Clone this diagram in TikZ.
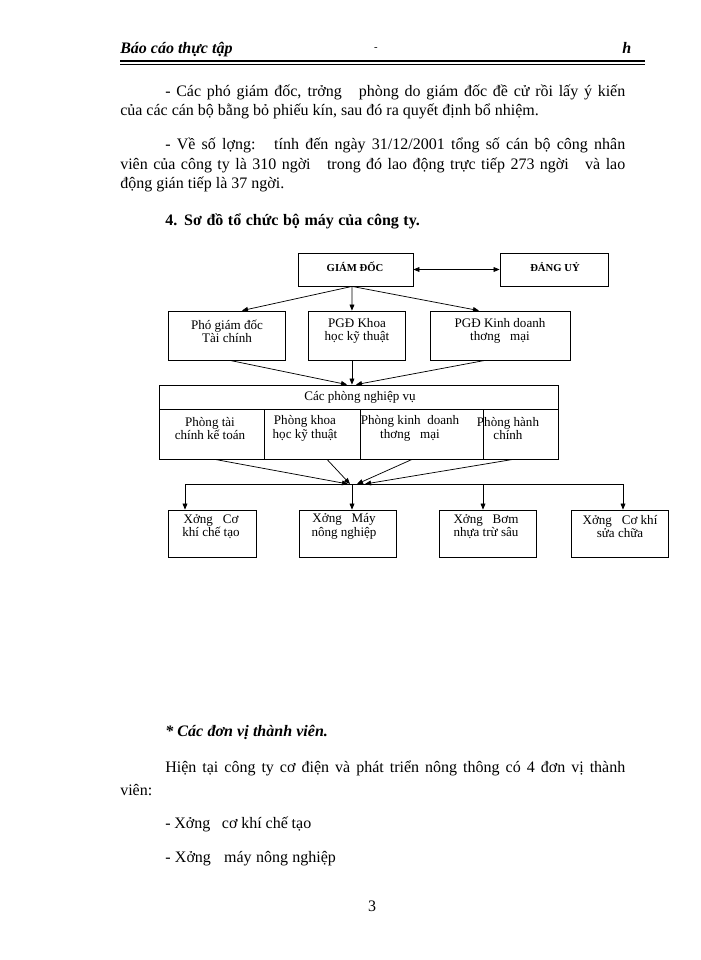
\documentclass[tikz,border=0pt]{standalone}
\usepackage{fontspec}
\setmainfont{Liberation Serif}
\usetikzlibrary{arrows.meta,positioning}

\begin{document}
\begin{tikzpicture}[
  x=0.75pt, y=-0.75pt,
  body/.style={anchor=base west, inner sep=0pt, font=\fontsize{12}{14}\selectfont},
  box/.style={draw, line width=0.6pt, inner sep=0pt},
  boxtext/.style={align=center, inner sep=0pt, font=\fontsize{9.8}{10}\selectfont},
  captext/.style={inner sep=0pt, font=\fontsize{8}{10}\selectfont\bfseries},
  arrow/.style={-{Triangle[length=4.5pt,width=3.6pt]}, line width=0.55pt},
  darrow/.style={{Triangle[length=4.5pt,width=3.6pt]}-{Triangle[length=4.5pt,width=3.6pt]}, line width=0.55pt}
]
  \fill[white] (0,0) rectangle (700,960);
  \useasboundingbox (0,0) rectangle (700,960);

  % Page header
  \node[body, font=\fontsize{12}{14}\selectfont\bfseries\itshape] (hdr) at (120,53) {Báo cáo thực tập};
  \node[inner sep=0pt, font=\fontsize{8}{10}\selectfont] (hdrdash) at (376,49) {-};
  \node[body, font=\fontsize{12}{14}\selectfont\bfseries\itshape] (hdrh) at (622,53) {h};
  \draw[line width=1.1pt] (120,61) -- (645,61);
  \draw[line width=0.4pt] (120,64) -- (645,64);

  % Text above the chart
  \node[body] (para1a) at (165,96) {\makebox[345pt][s]{- Các phó giám đốc, trởng\ \ \ phòng do giám đốc đề cử rồi lấy ý kiến}};
  \node[body] (para1b) at (120,115) {của các cán bộ bằng bỏ phiếu kín, sau đó ra quyết định bổ nhiệm.};
  \node[body] (para2a) at (165,149) {\makebox[345pt][s]{- Về số lợng:\ \ \ tính đến ngày 31/12/2001 tổng số cán bộ công nhân}};
  \node[body] (para2b) at (120,169) {\makebox[378.75pt][s]{viên của công ty là 310 ngời\ \ \ trong đó lao động trực tiếp 273 ngời\ \ \ và lao}};
  \node[body] (para2c) at (120,188) {động gián tiếp là 37 ngời.};
  \node[body, font=\fontsize{12}{14}\selectfont\bfseries] (head4) at (165,225) {\makebox[191pt][s]{4. Sơ đồ tổ chức bộ máy của công ty.}};

  % Top level
  \node[box, minimum width=86.25pt, minimum height=24.75pt] (gd) at (355.5,269.5) {};
  \node[box, minimum width=81pt, minimum height=24.75pt] (dangu) at (554,269.5) {};
  \node[captext] (gdt) at (355,267) {GIÁM ĐỐC};
  \node[captext] (dangut) at (555,267) {ĐẢNG UỶ};
  \draw[darrow] (gd.east) -- (dangu.west);

  % Deputy directors
  \node[box, minimum width=87.75pt, minimum height=36.75pt] (pgd1) at (226.5,335.5) {};
  \node[box, minimum width=72.75pt, minimum height=36.75pt] (pgd2) at (356.5,335.5) {};
  \node[box, minimum width=105pt, minimum height=36.75pt] (pgd3) at (500,335.5) {};
  \node[boxtext] (pgd1t) at (227,331) {Phó giám đốc\\Tài chính};
  \node[boxtext] (pgd2t) at (357,331) {PGĐ Khoa\\học kỹ thuật};
  \node[boxtext] (pgd3t) at (500,331) {PGĐ Kinh doanh\\thơng\ \ \ mại};
  \draw[arrow] ([xshift=-2.6pt]gd.south) -- ([xshift=11.6pt]pgd1.north);
  \draw[arrow] ([xshift=-2.6pt]gd.south) -- ([xshift=-3.4pt]pgd2.north);
  \draw[arrow] ([xshift=-2.6pt]gd.south) -- ([xshift=-15.75pt]pgd3.north);

  % Functional departments
  \node[box, minimum width=299.25pt, minimum height=18pt] (cpnv) at (358.5,397) {};
  \node[boxtext] (cpnvt) at (360,397) {Các phòng nghiệp vụ};
  \node[box, minimum width=78.75pt, minimum height=37.5pt] (pb1) at (211.5,434) {};
  \node[box, minimum width=72pt, minimum height=37.5pt] (pb2) at (312,434) {};
  \node[box, minimum width=92.25pt, minimum height=37.5pt] (pb3) at (421.5,434) {};
  \node[box, minimum width=56.25pt, minimum height=37.5pt] (pb4) at (520.5,434) {};
  \node[boxtext] (pb1t) at (210,428.5) {Phòng tài\\chính kế toán};
  \node[boxtext] (pb2t) at (305,428.5) {Phòng khoa\\học kỹ thuật};
  \node[boxtext] (pb3t) at (410,428.5) {Phòng kinh\ \ doanh\\thơng\ \ \ mại};
  \node[boxtext] (pb4t) at (508,428.5) {Phòng hành\\chính};
  \draw[arrow] ([xshift=2.6pt]pgd1.south) -- ([xshift=-8.6pt]cpnv.north);
  \draw[arrow] ([xshift=-3.4pt]pgd2.south) -- ([xshift=-4.9pt]cpnv.north);
  \draw[arrow] ([xshift=-11.25pt]pgd3.south) -- ([xshift=-1.9pt]cpnv.north);

  % Distribution line to workshops
  \coordinate (busl) at (185,484);
  \coordinate (busm) at (352,484);
  \coordinate (busr3) at (483,484);
  \coordinate (busr) at (623,484);
  \draw[line width=0.55pt] (busl) -- (busr);
  \draw[arrow] ([xshift=2.6pt]pb1.south) -- ([xshift=-3pt]busm);
  \draw[arrow] ([xshift=11.25pt]pb2.south) -- ([xshift=-1.5pt]busm);
  \draw[arrow] ([xshift=-7.1pt]pb3.south) -- ([xshift=3.75pt]busm);
  \draw[arrow] ([xshift=-5.6pt]pb4.south) -- ([xshift=9.75pt]busm);

  % Workshops
  \node[box, minimum width=66pt, minimum height=35.25pt] (xg1) at (212,533.5) {};
  \node[box, minimum width=72.75pt, minimum height=35.25pt] (xg2) at (347.5,533.5) {};
  \node[box, minimum width=72.75pt, minimum height=35.25pt] (xg3) at (487.5,533.5) {};
  \node[box, minimum width=72.75pt, minimum height=35.25pt] (xg4) at (619.5,533.5) {};
  \node[boxtext] (xg1t) at (211,526.5) {Xởng\ \ \ Cơ\\khí chế tạo};
  \node[boxtext] (xg2t) at (344,526.5) {Xởng\ \ \ Máy\\nông nghiệp};
  \node[boxtext] (xg3t) at (486,526.5) {Xởng\ \ \ Bơm\\nhựa trừ sâu};
  \node[boxtext] (xg4t) at (620,526.5) {Xởng\ \ \ Cơ khí\\sửa chữa};
  \draw[arrow] (busl) -- (busl |- xg1.north);
  \draw[arrow] (busm) -- (busm |- xg2.north);
  \draw[arrow] (busr3) -- (busr3 |- xg3.north);
  \draw[arrow] (busr) -- (busr |- xg4.north);

  % Text below the chart
  \node[body, font=\fontsize{12}{14}\selectfont\bfseries\itshape] (members) at (165,736) {\makebox[122pt][s]{* Các đơn vị thành viên.}};
  \node[body] (para3a) at (165,772) {\makebox[345pt][s]{Hiện tại công ty cơ điện và phát triển nông thông có 4 đơn vị thành}};
  \node[body] (para3b) at (120,795) {viên:};
  \node[body] (item1) at (165,828) {\makebox[109.5pt][s]{- Xởng\ \ \ cơ khí chế tạo}};
  \node[body] (item2) at (165,862) {\makebox[128pt][s]{- Xởng\ \ \ máy nông nghiệp}};
  \node[inner sep=0pt, font=\fontsize{12}{14}\selectfont] (pageno) at (372,906) {3};
\end{tikzpicture}
\end{document}
